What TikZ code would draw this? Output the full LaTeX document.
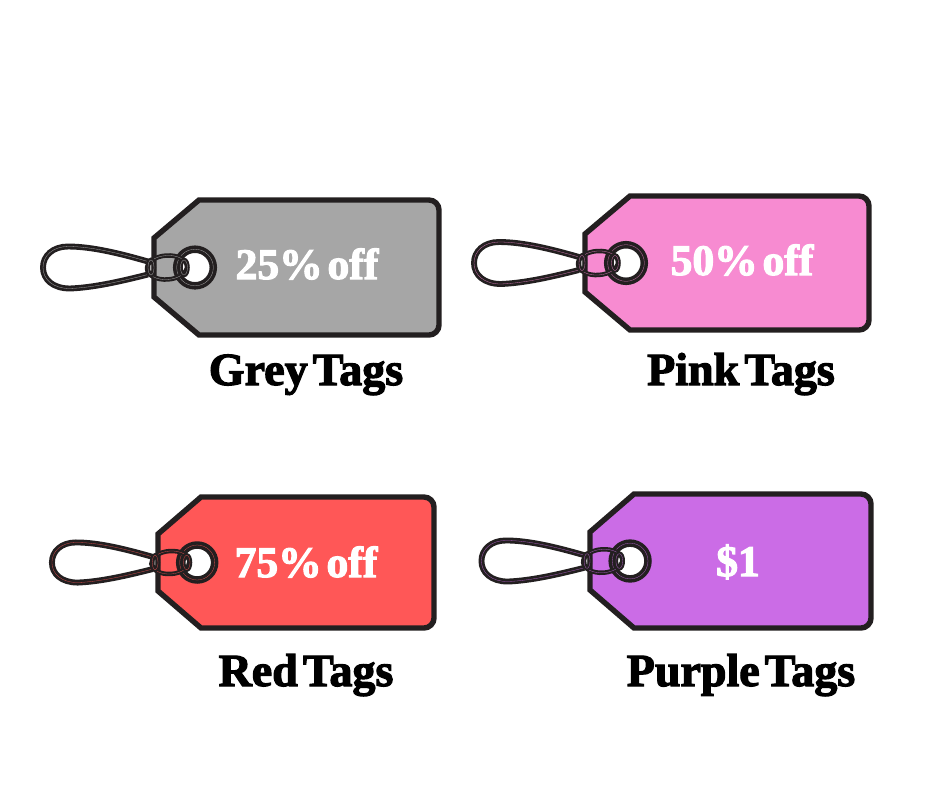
\documentclass[tikz,border=0pt]{standalone}
\usepackage{fontspec}
\newfontfamily\fat[FakeBold=2.6,WordSpace=0.9]{Liberation Serif Bold}
\newfontfamily\fatp[FakeBold=2.6,WordSpace=0.45]{Liberation Serif Bold}
\definecolor{ink}{HTML}{231F20}
\definecolor{tgrey}{HTML}{A6A6A6}
\definecolor{tpink}{HTML}{F78BD1}
\definecolor{tred}{HTML}{FF5757}
\definecolor{tpurple}{HTML}{CB6CE6}
\tikzset{
  tagbody/.style={draw=ink,line width=5.4pt,line join=miter},
  wire/.style={draw=ink,line width=2.8pt,double=wirecol,double distance=0.3pt},
  ringwire/.style={draw=ink,line width=3.6pt,double=wirecol,double distance=0.3pt},
  thinwire/.style={draw=ink,line width=2.1pt,double=wirecol,double distance=0.3pt},
  caption/.style={anchor=base,font=\fat\fontsize{46}{48}\selectfont,text=black,inner sep=0pt},
  price/.style={anchor=base,font=\fatp\fontsize{43.5}{46}\selectfont,text=white,inner sep=0pt}
}
% left, top, right, bottom, fill, wire, chamfer x, chamfer y
\newcommand{\pricetag}[8]{%
  \colorlet{wirecol}{#6}%
  \pgfmathsetmacro{\mid}{(#2+#4)/2}%
  \pgfmathsetmacro{\hook}{#7/45}%
  \path[tagbody,fill=#5] (#1+#7,#2) [rounded corners=10pt] -- (#3,#2) -- (#3,#4) [sharp corners] -- (#1+#7,#4)
     -- (#1,#4-#8) -- (#1,#2+#8) -- cycle;
  \begin{scope}[shift={(#1,\mid)},scale=\hook]
    \fill[white] (41,0) circle (18);
    \path[ringwire] (41,0) circle (18.3);
    \path[wire] (-6,-6) .. controls (-34,-14) and (-62,-21) .. (-86,-21)
       .. controls (-101,-21) and (-111,-12) .. (-111,0)
       .. controls (-111,12) and (-101,21) .. (-84,21)
       .. controls (-60,20) and (-34,14) .. (-6,7);
    \path[thinwire,rotate around={4:(13,0)}] (13,0) ellipse (20 and 12);
    \path[thinwire] (-3,0) ellipse (3 and 7.5);
    \path[thinwire] (30,0) ellipse (3.5 and 7.5);
  \end{scope}%
}
\begin{document}
\begin{tikzpicture}[x=1pt,y=-1pt]
\useasboundingbox (0,0) rectangle (940,788);
\fill[white] (0,0) rectangle (940,788);
\pricetag{154}{200}{439}{335}{tgrey}{tgrey}{45}{38}
\pricetag{585}{196}{869}{330}{tpink}{tpink!80!ink}{45}{38}
\pricetag{158}{497}{434}{628}{tred}{tred!80!ink}{43}{37}
\pricetag{590}{494}{871}{628}{tpurple}{tpurple!80!ink}{44}{38}
\node[price] (p1) at (307,279) {25\% off};
\node[price] (p2) at (742,275) {50\% off};
\node[price] (p3) at (306,577) {75\% off};
\node[price] (p4) at (738,576) {\$1};
\node[caption] (c1) at (306,385) {Grey Tags};
\node[caption] (c2) at (741,385) {Pink Tags};
\node[caption] (c3) at (306,686) {Red Tags};
\node[caption] (c4) at (741,686) {Purple Tags};
\end{tikzpicture}
\end{document}
